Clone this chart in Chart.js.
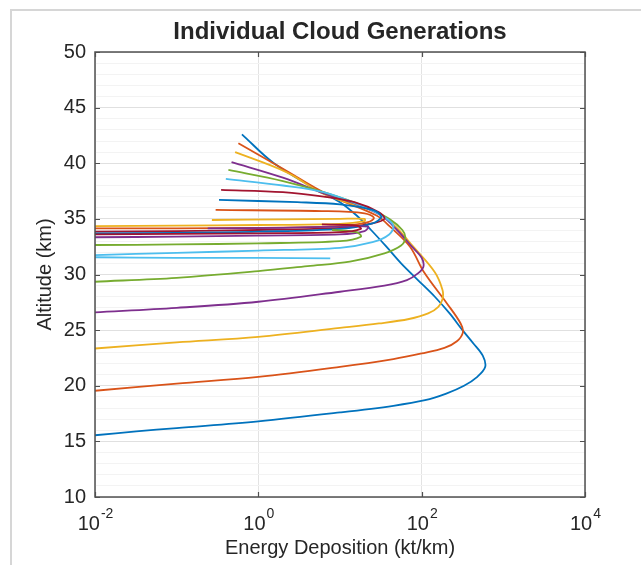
<!DOCTYPE html>
<html>
<head>
<meta charset="utf-8">
<script src="https://cdn.jsdelivr.net/npm/chart.js@4.4.1/dist/chart.umd.min.js"></script>
<style>
  html, body { margin: 0; padding: 0; background: #fff; }
  #wrap { position: relative; width: 641px; height: 565px; }
  #frame { position: absolute; left: 10px; top: 9px; right: 0; bottom: 0;
           border-left: 2px solid #d6d6d6; border-top: 2px solid #d6d6d6; }
  canvas { position: absolute; left: 0; top: 0; }
</style>
</head>
<body>
<div id="wrap"><div id="frame"></div><canvas id="cloud" width="641" height="565"></canvas></div>
<script>
// altitude (km) and energy deposition (kt/km) along each cloud generation
const gen1Alt = [15.55, 15.9, 16.2, 16.8, 17.6, 18.2, 18.7, 19.3, 20.0, 20.8, 21.7, 22.7, 23.8, 25.0, 26.5, 28.0, 29.5, 31.0, 32.5, 34.0, 35.3, 36.5, 37.5, 40.0, 42.6];
const gen1E   = [0.01, 0.032, 0.1, 1, 10, 45, 110, 200, 330, 480, 600, 560, 430, 316, 220, 145, 90, 56, 37, 24, 16, 10, 5.6, 1.55, 0.63];

const gen2Alt = [19.55, 20.2, 20.8, 21.7, 22.4, 22.9, 23.4, 24.0, 24.8, 25.6, 27.4, 30.2, 32.5, 34.3, 35.3, 37.2, 39.5, 41.8];
const gen2E   = [0.01, 0.1, 1, 10, 45, 100, 190, 270, 320, 300, 204, 107, 72, 41, 28, 7, 2, 0.57];

const gen3Alt = [23.35, 23.9, 24.4, 25.2, 25.6, 26.0, 26.5, 27.1, 27.8, 28.6, 30.2, 32.5, 34.3, 35.5, 37.2, 39.2, 41.0];
const gen3E   = [0.01, 0.1, 1, 10, 30, 70, 120, 160, 180, 180, 145, 79, 48, 30, 6.5, 2.2, 0.52];

const gen4Alt = [26.6, 27.0, 27.55, 28.45, 29.0, 29.5, 30.1, 30.7, 31.5, 32.5, 34.0, 35.3, 36.3, 37.3, 38.7, 40.1];
const gen4E   = [0.01, 0.1, 1, 10, 35, 66, 90, 105, 100, 76, 50, 32, 16, 6.3, 2, 0.47];

const gen5Alt = [29.35, 29.7, 30.3, 30.75, 31.15, 31.9, 32.6, 33.3, 34.0, 35.0, 36.0, 37.4, 38.4, 39.4];
const gen5E   = [0.01, 0.1, 1, 4, 13.2, 35, 56, 63, 58, 40, 22, 6.3, 2, 0.43];

const gen6Alt = [31.75, 31.95, 32.15, 32.4, 32.9, 33.6, 34.4, 35.2, 36.2, 37.4, 38.0, 38.6];
const gen6E   = [0.01, 0.1, 1, 10, 25, 40, 45, 34, 18, 6.3, 2, 0.4];

const gen7Alt = [33.85, 33.9, 34.0, 34.2, 34.6, 35.0, 35.6, 36.5, 37.0, 37.4, 37.6];
const gen7E   = [0.01, 0.1, 1, 10, 25, 35, 30, 15, 6.3, 2, 0.35];

const gen8Alt = [33.7, 33.75, 33.85, 34.1, 34.6, 35.2, 35.8, 36.3, 36.5, 36.7];
const gen8E   = [0.01, 0.1, 1, 10, 25, 32, 25, 10, 3, 0.33];

const gen9Alt = [34.15, 34.15, 34.2, 34.35, 34.7, 35.1, 35.5, 35.7, 35.8];
const gen9E   = [0.01, 0.1, 1, 10, 22, 26, 20, 6, 0.3];

const gen10Alt = [34.35, 34.4, 34.45, 34.55, 34.8, 35.0, 35.0, 34.95, 34.9];
const gen10E   = [0.01, 0.1, 1, 10, 20, 20, 10, 2, 0.27];

const gen11Alt = [33.35, 33.4, 33.5, 33.6, 33.9, 34.3, 34.3, 34.2, 34.15];
const gen11E   = [0.01, 0.1, 1, 10, 20, 22, 10, 2, 0.24];

const gen12Alt = [32.65, 32.7, 32.8, 33.0, 33.4, 33.8, 34.0];
const gen12E   = [0.01, 0.1, 1, 10, 18, 16, 8];

const gen13Alt = [31.55, 31.5, 31.5, 31.45];
const gen13E   = [0.01, 0.1, 1, 7.6];

const gen14Alt = [33.6, 33.65, 33.7, 33.8, 34.1, 34.4, 34.5];
const gen14E   = [0.01, 0.1, 1, 10, 18, 16, 6];

// default MATLAB line colour order
const lineColors = ['#0072BD', '#D95319', '#EDB120', '#7E2F8E', '#77AC30', '#4DBEEE', '#A2142F'];

const xTickValues = [0.01, 1, 100, 10000];
const xTickExponents = ['-2', '0', '2', '4'];

const generations = [
  [gen1E, gen1Alt], [gen2E, gen2Alt], [gen3E, gen3Alt], [gen4E, gen4Alt],
  [gen5E, gen5Alt], [gen6E, gen6Alt], [gen7E, gen7Alt], [gen8E, gen8Alt],
  [gen9E, gen9Alt], [gen10E, gen10Alt], [gen11E, gen11Alt], [gen12E, gen12Alt],
  [gen13E, gen13Alt], [gen14E, gen14Alt]
];

const datasets = generations.map(([e, alt], i) => ({
  label: 'Generation ' + (i + 1),
  data: e.map((v, k) => ({ x: v, y: alt[k] })),
  borderColor: lineColors[i % lineColors.length],
  borderWidth: 1.8,
  pointRadius: 0,
  showLine: true,
  fill: false,
  tension: 0.35,
  order: -i
}));

const FONT = '"Liberation Sans", Arial, Helvetica, sans-serif';
const TEXT = '#262626';
const BOX = '#505050';

// box, inward ticks and 10^n labels, drawn the way MATLAB does
const matlabAxes = {
  id: 'matlabAxes',
  afterDraw(chart) {
    const { ctx, chartArea: a, scales: { x, y } } = chart;
    const tl = 5;
    ctx.save();
    ctx.strokeStyle = BOX;
    ctx.lineWidth = 1.2;
    ctx.beginPath();
    y.ticks.forEach(t => {
      if (t.value % 5 !== 0) return;
      const py = Math.round(y.getPixelForValue(t.value)) + 0.5;
      ctx.moveTo(a.left, py); ctx.lineTo(a.left + tl, py);
      ctx.moveTo(a.right, py); ctx.lineTo(a.right - tl, py);
    });
    xTickValues.forEach(v => {
      const px = Math.round(x.getPixelForValue(v)) + 0.5;
      ctx.moveTo(px, a.bottom); ctx.lineTo(px, a.bottom - tl);
      ctx.moveTo(px, a.top); ctx.lineTo(px, a.top + tl);
    });
    ctx.stroke();
    ctx.lineWidth = 1.5;
    ctx.strokeRect(a.left, a.top, a.right - a.left, a.bottom - a.top);

    ctx.fillStyle = TEXT;
    ctx.textBaseline = 'alphabetic';
    ctx.textAlign = 'left';
    xTickValues.forEach((v, i) => {
      const px = x.getPixelForValue(v);
      ctx.font = '20px ' + FONT;
      const wb = ctx.measureText('10').width;
      ctx.font = '14px ' + FONT;
      const ws = ctx.measureText(xTickExponents[i]).width;
      const x0 = px - (wb + ws) / 2;
      ctx.font = '20px ' + FONT;
      ctx.fillText('10', x0, 530);
      ctx.font = '14px ' + FONT;
      ctx.fillText(xTickExponents[i], x0 + wb + 1, 518);
    });
    ctx.restore();
  }
};

new Chart(document.getElementById('cloud'), {
  type: 'scatter',
  data: { datasets },
  options: {
    responsive: false,
    animation: false,
    layout: { padding: { left: 0, right: 56, top: 0, bottom: 0 } },
    plugins: {
      legend: { display: false },
      tooltip: { enabled: false },
      title: {
        display: true,
        fullSize: false,
        text: 'Individual Cloud Generations',
        color: TEXT,
        font: { family: FONT, size: 24, weight: 'bold' },
        padding: { top: 17.6, bottom: 5.6 }
      }
    },
    scales: {
      x: {
        type: 'logarithmic',
        min: 0.01,
        max: 10000,
        afterBuildTicks: axis => { axis.ticks = xTickValues.map(v => ({ value: v })); },
        afterFit: scale => { scale.height = 68; },
        ticks: { callback: () => '', autoSkip: false },
        grid: { color: '#e3e3e3', lineWidth: 1, drawTicks: false },
        border: { display: false },
        title: {
          display: true,
          text: 'Energy Deposition (kt/km)',
          color: TEXT,
          font: { family: FONT, size: 20 },
          padding: { top: 0, bottom: 5 }
        }
      },
      y: {
        min: 10,
        max: 50,
        afterFit: scale => { scale.width = 95; },
        ticks: {
          stepSize: 1,
          autoSkip: false,
          padding: 9,
          color: TEXT,
          font: { family: FONT, size: 20 },
          callback: v => (v % 5 === 0 ? String(v) : '')
        },
        grid: {
          drawTicks: false,
          lineWidth: 1,
          color: c => (c.tick && c.tick.value % 5 === 0 ? '#e0e0e0' : '#f3f3f3')
        },
        border: { display: false },
        title: {
          display: true,
          text: 'Altitude (km)',
          color: TEXT,
          font: { family: FONT, size: 20 },
          padding: { top: 33, bottom: 0 }
        }
      }
    }
  },
  plugins: [matlabAxes]
});
</script>
</body>
</html>
